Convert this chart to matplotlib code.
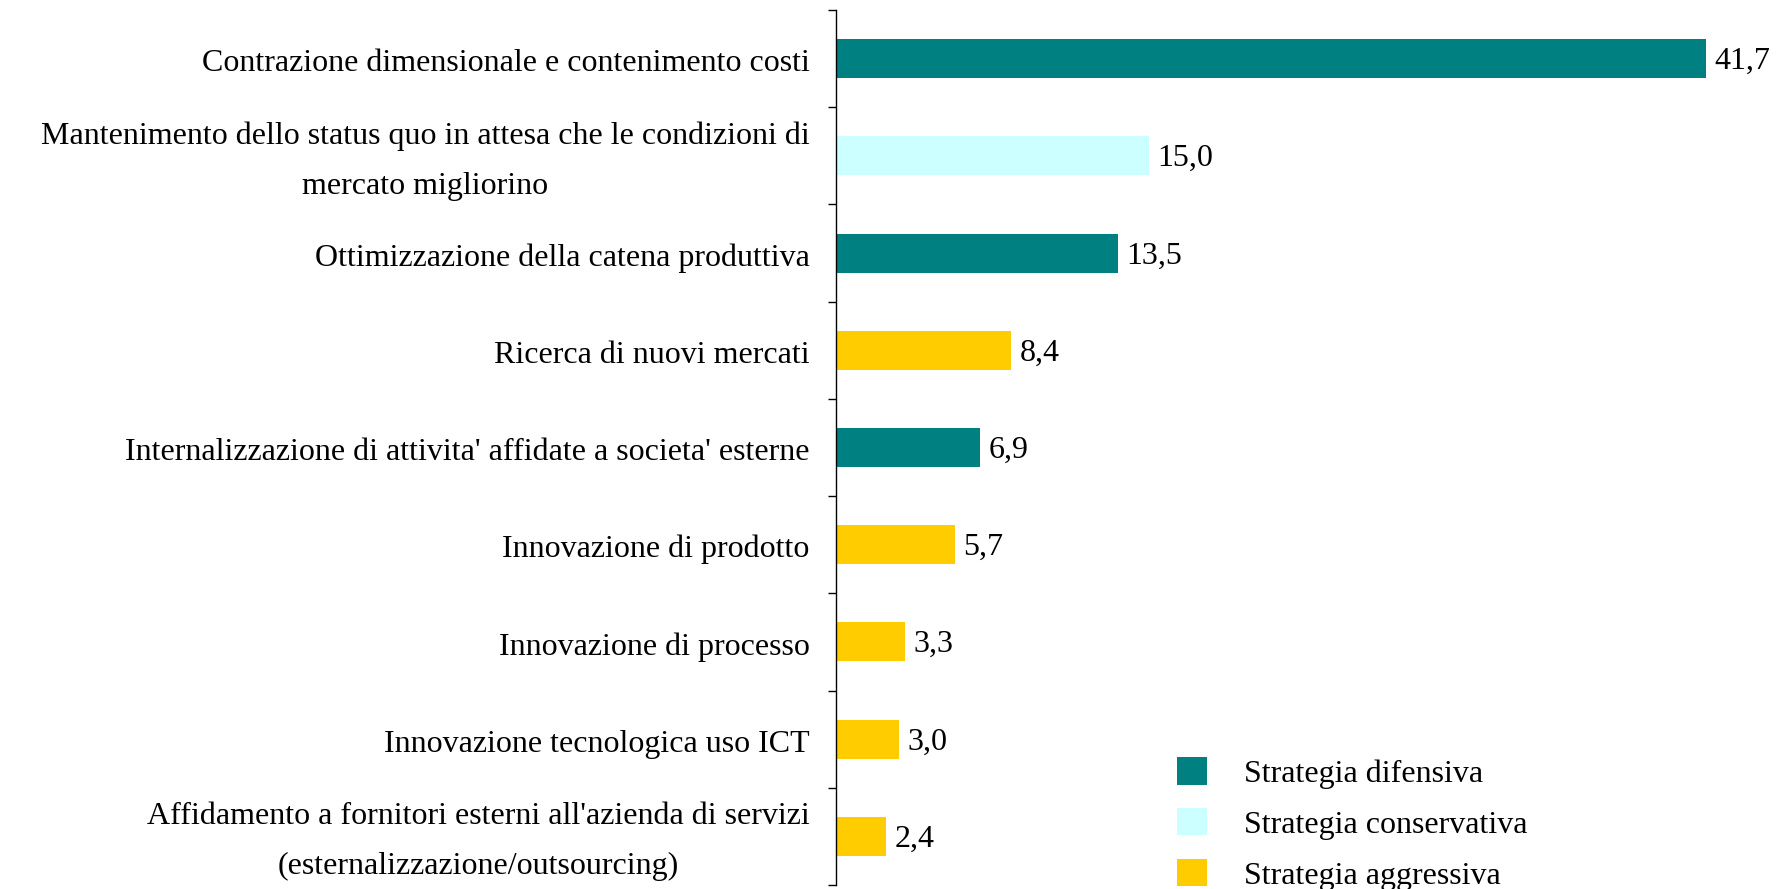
import matplotlib.pyplot as plt
from matplotlib.patches import Patch
from matplotlib.transforms import ScaledTranslation

# dati
categorie = [
    "Contrazione dimensionale e contenimento costi",
    "Mantenimento dello status quo in attesa che le condizioni di\nmercato migliorino",
    "Ottimizzazione della catena produttiva",
    "Ricerca di nuovi mercati",
    "Internalizzazione di attivita' affidate a societa' esterne",
    "Innovazione di prodotto",
    "Innovazione di processo",
    "Innovazione tecnologica uso ICT",
    "Affidamento a fornitori esterni all'azienda di servizi\n(esternalizzazione/outsourcing)",
]
valori = [41.7, 15.0, 13.5, 8.4, 6.9, 5.7, 3.3, 3.0, 2.4]
strategia = ["difensiva", "conservativa", "difensiva", "aggressiva", "difensiva",
             "aggressiva", "aggressiva", "aggressiva", "aggressiva"]

colori = {"difensiva": "#008080", "conservativa": "#CCFFFF", "aggressiva": "#FFCC00"}
legenda = ["difensiva", "conservativa", "aggressiva"]

plt.rcParams['font.family'] = ['Liberation Serif', 'DejaVu Serif']
FS = 23

fig = plt.figure(figsize=(17.84, 8.89), dpi=100)
ax = fig.add_axes([836 / 1784, 1 - 885 / 889, 1 - 836 / 1784 - 0.005, 875 / 889])

pos = list(range(len(categorie)))
ax.barh(pos, valori, height=0.4, color=[colori[s] for s in strategia])

for p, v in zip(pos, valori):
    ax.annotate(f"{v:.1f}".replace(".", ","), (v, p), xytext=(6, -2),
                textcoords="offset points", va="center", ha="left", fontsize=FS)

ax.set_xlim(0, 45)
ax.set_ylim(len(categorie) - 0.5, -0.5)

ax.set_yticks(pos)
ax.set_yticklabels(categorie, fontsize=FS, multialignment="center",
                   linespacing=1.95, va="center")
ax.tick_params(axis="y", which="major", length=0, pad=19)
ax.set_yticks([i - 0.5 for i in range(len(categorie) + 1)], minor=True)
ax.tick_params(axis="y", which="minor", length=6, width=1)

# etichette un po' piu' in basso, come nell'originale
shift = ScaledTranslation(0, -5 / 100, fig.dpi_scale_trans)
for lab in ax.get_yticklabels():
    lab.set_transform(lab.get_transform() + shift)

ax.set_xticks([])
for s in ["top", "right", "bottom"]:
    ax.spines[s].set_visible(False)
ax.spines["left"].set_linewidth(1)

handles = [Patch(facecolor=colori[k], edgecolor="none") for k in legenda]
fig.legend(handles, ["Strategia " + k for k in legenda],
           loc="upper left", bbox_to_anchor=(1177 / 1784, 1 - 757 / 889),
           frameon=False, fontsize=FS, handlelength=0.95, handleheight=0.95,
           handletextpad=1.15, labelspacing=0.6, borderpad=0, borderaxespad=0)

plt.savefig("out.png", dpi=100)
